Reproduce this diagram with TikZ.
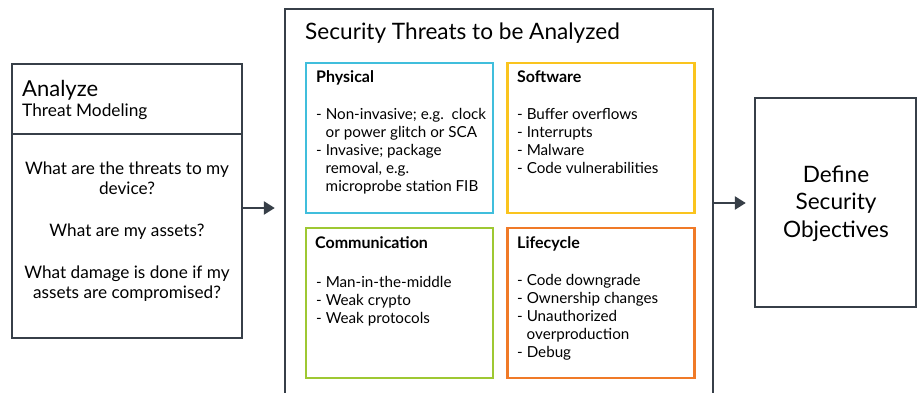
\documentclass[tikz,border=0pt]{standalone}
\usepackage{fontspec}
\setmainfont{Lato}
\usetikzlibrary{arrows.meta}

\definecolor{slate}{RGB}{55,63,72}
\definecolor{physcol}{RGB}{64,190,220}
\definecolor{softcol}{RGB}{250,196,30}
\definecolor{commcol}{RGB}{158,200,50}
\definecolor{lifecol}{RGB}{240,122,40}

\tikzset{
  frame/.style={draw=slate,line width=2.4pt,inner sep=0pt},
  threatbox/.style={draw=#1,line width=2.4pt,inner sep=0pt,minimum width=187pt,minimum height=150pt},
  heading/.style={anchor=base west,inner sep=0pt,font=\fontsize{16}{18}\selectfont\bfseries},
  items/.style={anchor=base west,inner sep=0pt,align=left,font=\fontsize{15.2}{18}\selectfont},
  flow/.style={-{Triangle[length=11pt,width=13pt]},draw=slate,line width=2.5pt}
}
\newcommand{\ind}{\phantom{-\ }}

\begin{document}
\begin{tikzpicture}[x=1pt,y=-1pt]
          \useasboundingbox (0,0) rectangle (917,393);
          %boxes
          \node[frame,minimum width=230pt,minimum height=274pt] (analyze) at (127,201) {};
          \node[frame,minimum width=428pt,minimum height=392pt] (threats) at (499,205) {};
          \node[frame,minimum width=161pt,minimum height=209pt] (objectives) at (835.5,202.5) {};
          \draw[slate,line width=2.4pt] (analyze.west |- 0,134) -- (analyze.east |- 0,134);
          \node[threatbox=physcol] (physical) at (399.5,138) {};
          \node[threatbox=softcol] (software) at (601,138) {};
          \node[threatbox=commcol] (communication) at (399.5,303) {};
          \node[threatbox=lifecol] (lifecycle) at (601,303) {};
          %texts (multi-line nodes sit on their last baseline)
          \node[anchor=base west,inner sep=0pt,font=\fontsize{22}{24}\selectfont] (analyzetitle) at (22,96) {Analyze};
          \node[anchor=base west,inner sep=0pt,font=\fontsize{17.3}{20}\selectfont] (modeling) at (22,117) {Threat Modeling};
          \node[anchor=base,inner sep=0pt,align=center,font=\fontsize{17.2}{20}\selectfont] (questions) at (127,298)
            {What are the threats to my\\device?\\[22pt]What are my assets?\\[22pt]What damage is done if my\\assets are compromised?};
          \node[anchor=base west,inner sep=0pt,font=\fontsize{22.6}{26}\selectfont] (threatstitle) at (305,40) {Security Threats to be Analyzed};
          \node[heading] (physhead) at (316,83) {Physical};
          \node[items] (physitems) at (316,191)
            {- Non-invasive; e.g.\ \ clock\\\ind or power glitch or SCA\\- Invasive; package\\\ind removal, e.g.\\\ind microprobe station FIB};
          \node[heading] (softhead) at (517,83) {Software};
          \node[items] (softitems) at (517,173)
            {- Buffer overflows\\- Interrupts\\- Malware\\- Code vulnerabilities};
          \node[heading] (commhead) at (315,248) {Communication};
          \node[items] (commitems) at (316,323)
            {- Man-in-the-middle\\- Weak crypto\\- Weak protocols};
          \node[heading] (lifehead) at (517,248) {Lifecycle};
          \node[items] (lifeitems) at (517,357)
            {- Code downgrade\\- Ownership changes\\- Unauthorized\\\ind overproduction\\- Debug};
          \node[anchor=base,inner sep=0pt,align=center,font=\fontsize{22.6}{27.5}\selectfont] (objtext) at (836,237)
            {Define\\Security\\Objectives};
          %arrows
          \draw[flow,shorten >=9pt] (analyze.east |- 0,208) -- (threats.west |- 0,208);
          \draw[flow,shorten >=8pt] (threats.east |- 0,203) -- (objectives.west |- 0,203);
        \end{tikzpicture}
\end{document}
